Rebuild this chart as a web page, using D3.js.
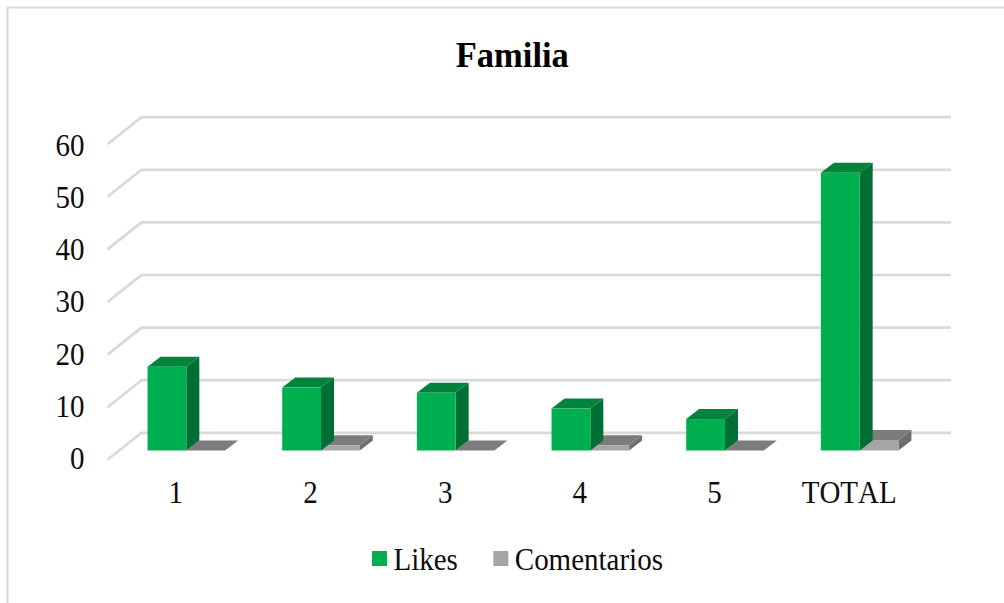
<!DOCTYPE html>
<html><head><meta charset="utf-8">
<script src="https://cdn.jsdelivr.net/npm/d3@7"></script>
<style>html,body{margin:0;padding:0;background:#fff}svg{display:block}text{font-family:"Liberation Serif",serif;fill:#0d0d0d;font-kerning:none}</style>
</head><body><svg id="c" width="1004" height="603"></svg>
<script>
const categories = ["1","2","3","4","5","TOTAL"];
const likes = [16,12,11,8,6,53];
const comentarios = [0,1,0,1,0,2];
const yTicks = [0,10,20,30,40,50,60];
const seriesNames = ["Likes","Comentarios"];
const titleText = "Familia";

const svg = d3.select("#c");
const W=1004,H=603;
// chart frame
svg.append("path").attr("d",`M${W+2},7.5H7.5V${H+2}`).attr("fill","none").attr("stroke","#d9d9d9").attr("stroke-width",2.2);

const y = d3.scaleLinear().domain([0,60]).range([450.5,136.1]);
const yGrid = d3.scaleLinear().domain([0,60]).range([432.8,117.2]);
const yLabel = d3.scaleLinear().domain([0,60]).range([469,155.8]);
const xLabel = d3.scaleBand().domain(categories).range([108.5,916.5]);
const xBar = d3.scaleBand().domain(categories).range([119,927]);
const barW = 38.8;
const depth = {dx:13,dy:10};

// gridlines: back wall + left side wall
const g = svg.append("g");
yTicks.forEach(t=>{
  const yb = yGrid(t);
  g.append("path").attr("d",`M107.5,${yb+27}L141.5,${yb}H951`)
   .attr("fill","none").attr("stroke","#d9d9d9").attr("stroke-width",2.7).attr("stroke-linejoin","round");
});

function box(sel,x0,val,cols){
  const yt=y(val), yb=y(0), x1=x0+barW, d=depth;
  sel.append("path").attr("d",`M${x1},${yt}L${x1+d.dx},${yt-d.dy}V${yb-d.dy}L${x1},${yb}Z`).attr("fill",cols.side);
  sel.append("path").attr("d",`M${x0},${yt}L${x0+d.dx},${yt-d.dy}H${x1+d.dx}L${x1},${yt}Z`).attr("fill",cols.top);
  if(val>0) sel.append("rect").attr("x",x0).attr("y",yt).attr("width",barW).attr("height",yb-yt).attr("fill",cols.front);
}
const greenC={front:"#00b050",top:"#00843c",side:"#006f35"};
const grayC={front:"#a5a5a5",top:"#7c7c7c",side:"#6e6e6e"};
const bars=svg.append("g");
categories.forEach((c,i)=>{
  const cx=xBar(c)+xBar.bandwidth()/2;
  box(bars,cx,comentarios[i],grayC);
  box(bars,cx-barW,likes[i],greenC);
});

const stretch = "scale(1,1.07)";
// y axis labels
svg.append("g").selectAll("text").data(yTicks).join("text")
  .attr("transform",d=>`translate(84.5,${yLabel(d)}) ${stretch}`).attr("text-anchor","end").attr("font-size",29).text(d=>d);
// x axis labels
svg.append("g").selectAll("text").data(categories).join("text")
  .attr("transform",d=>`translate(${xLabel(d)+xLabel.bandwidth()/2},502.5) ${stretch}`).attr("text-anchor","middle").attr("font-size",29).text(d=>d);
// title
svg.append("text").attr("transform",`translate(512.3,66.5) scale(1,1.05)`).attr("text-anchor","middle").attr("font-size",34.5).attr("font-weight","bold").style("fill","#000").text(titleText);
// legend
const legendX=[372,493.3], legendCol=[greenC.front,grayC.front];
seriesNames.forEach((n,i)=>{
  svg.append("rect").attr("x",legendX[i]).attr("y",551).attr("width",15).attr("height",15).attr("fill",legendCol[i]);
  svg.append("text").attr("transform",`translate(${legendX[i]+21.5},570) ${stretch}`).attr("font-size",29).text(n);
});
</script></body></html>
